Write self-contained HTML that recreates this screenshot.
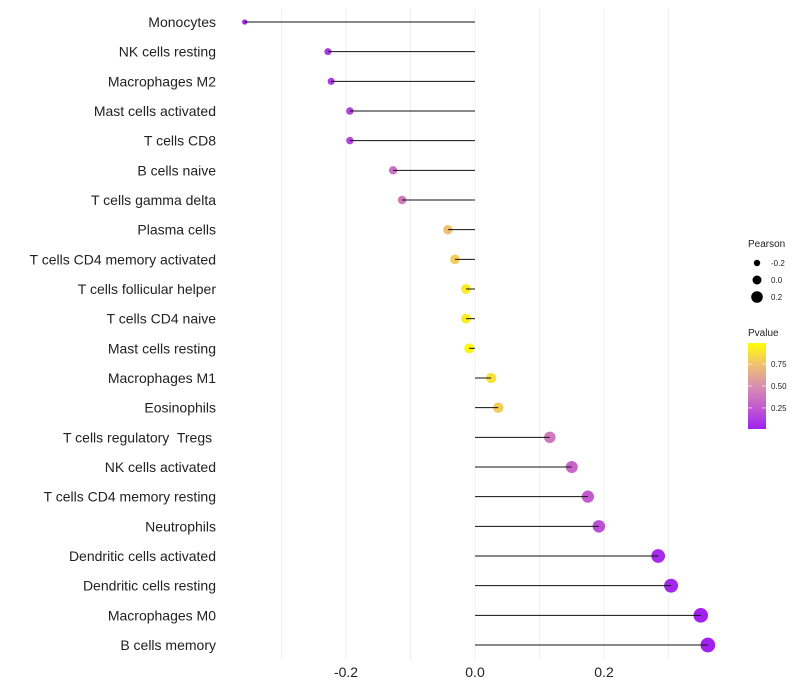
<!DOCTYPE html>
<html><head><meta charset="utf-8"><style>
body{margin:0;background:#fff;}
svg{display:block;font-family:"Liberation Sans",sans-serif;}
</style></head><body>
<svg id="c" width="800" height="700"></svg>
<script>
const categories=["Monocytes","NK cells resting","Macrophages M2","Mast cells activated","T cells CD8","B cells naive","T cells gamma delta","Plasma cells","T cells CD4 memory activated","T cells follicular helper","T cells CD4 naive","Mast cells resting","Macrophages M1","Eosinophils","T cells regulatory\u00a0 Tregs\u00a0","NK cells activated","T cells CD4 memory resting","Neutrophils","Dendritic cells activated","Dendritic cells resting","Macrophages M0","B cells memory"];
const pearson=[-0.357,-0.228,-0.223,-0.194,-0.194,-0.127,-0.113,-0.042,-0.031,-0.014,-0.014,-0.009,0.025,0.036,0.116,0.150,0.175,0.192,0.284,0.304,0.350,0.361];
const pvalues=[0.02,0.1,0.1,0.15,0.15,0.35,0.4,0.75,0.8,0.92,0.93,0.97,0.88,0.8,0.4,0.3,0.25,0.2,0.05,0.03,0.01,0.01];
const xTicks=[-0.2,0.0,0.2];
const xTickLabels=["-0.2","0.0","0.2"];
const sizeLegendValues=[-0.2,0.0,0.2];
const colorLegendTicks=[0.25,0.5,0.75];

const NS="http://www.w3.org/2000/svg";
const svg=document.getElementById('c');
function el(t,a,p){const e=document.createElementNS(NS,t);for(const k in a)e.setAttribute(k,a[k]);(p||svg).appendChild(e);return e;}
const x=v=>475+v*645;
const y=i=>22+i*(623/21);
const r=v=>5+6.5*v;
const stops=[[0,[160,32,240]],[0.25,[194,91,208]],[0.5,[217,143,175]],[0.75,[240,192,112]],[1,[255,255,0]]];
function col(p){for(let i=0;i<stops.length-1;i++){const a=stops[i],b=stops[i+1];if(p<=b[0]){const t=(p-a[0])/(b[0]-a[0]);const c=a[1].map((v,j)=>Math.round(v+(b[1][j]-v)*t));return `rgb(${c})`;}}return 'rgb(255,255,0)';}

for(let g=-0.3;g<=0.31;g+=0.1){const gl=el('line',{x1:x(g),x2:x(g),y1:8,y2:660,stroke:'#f0f0f0','stroke-width':1});
}
xTicks.forEach((t,i)=>{const tx=el('text',{x:x(t),y:677,'text-anchor':'middle','font-size':14,fill:'#222'});tx.textContent=xTickLabels[i];
});
categories.forEach((c,i)=>{
const lb=el('text',{x:216,y:y(i)+5,'text-anchor':'end','font-size':14,fill:'#222'});lb.textContent=c;

const pt=el('circle',{cx:x(pearson[i]),cy:y(i),r:r(pearson[i]),fill:col(pvalues[i])});

const ln=el('line',{x1:x(0),x2:x(pearson[i]),y1:y(i),y2:y(i),stroke:'#111','stroke-width':1});

});
const t1=el('text',{x:748,y:247,'font-size':10,fill:'#222'});t1.textContent='Pearson';

sizeLegendValues.forEach((v,i)=>{const cy=263+i*17;
const c=el('circle',{cx:757,cy:cy,r:r(v)-0.5,fill:'#000'});

const tx=el('text',{x:771,y:cy+3,'font-size':8,fill:'#222'});tx.textContent=v.toFixed(1);
});
const t2=el('text',{x:748,y:336,'font-size':10,fill:'#222'});t2.textContent='Pvalue';

const defs=el('defs',{});const lg=el('linearGradient',{id:'g',x1:0,y1:1,x2:0,y2:0},defs);
stops.forEach(s=>el('stop',{offset:s[0],'stop-color':`rgb(${s[1]})`},lg));
const bar=el('rect',{x:748,y:343,width:18,height:86,fill:'url(#g)'});

const py=p=>429-(p-0.01)/(0.98)*86;
colorLegendTicks.forEach(p=>{
el('line',{x1:748,x2:752,y1:py(p),y2:py(p),stroke:'#fff','stroke-width':0.6});
el('line',{x1:762,x2:766,y1:py(p),y2:py(p),stroke:'#fff','stroke-width':0.6});
const tx=el('text',{x:771,y:py(p)+3,'font-size':8,fill:'#222'});tx.textContent=p.toFixed(2);
});
</script>
</body></html>
